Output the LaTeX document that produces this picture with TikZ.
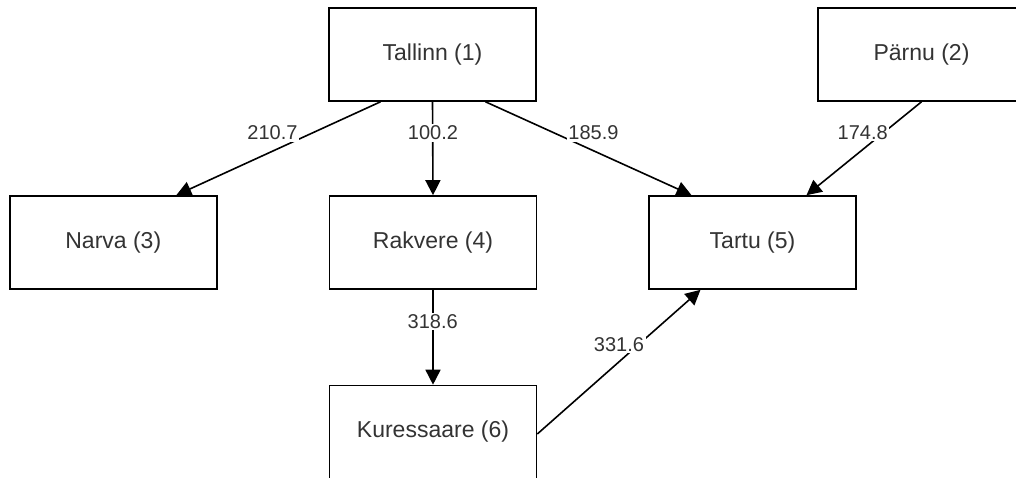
\documentclass[tikz,border=0pt]{standalone}
\usepackage{fontspec}
\setmainfont{Liberation Sans}
\usetikzlibrary{arrows.meta}
\definecolor{txt}{HTML}{333333}
\begin{document}
\begin{tikzpicture}[x=1pt,y=-1pt,
  city/.style={draw=black, line width=1.6pt, minimum width=207pt, minimum height=93pt,
    inner sep=0pt, font=\fontsize{23}{27}\selectfont, text=txt},
  road/.style={draw=black, line width=1.6pt, -{Triangle[length=15pt,width=15pt]}},
  dist/.style={fill=white, inner sep=1.5pt, font=\fontsize{20}{24}\selectfont, text=txt}]
\clip (0,0) rectangle (1016,478);

% cities
\node[city] (tallinn)    at (432.5,54.5)  {Tallinn (1)};
\node[city] (parnu)      at (921.5,54.5)  {Pärnu (2)};
\node[city] (narva)      at (113.3,242.5) {Narva (3)};
\node[city] (rakvere)    at (433,242.5)   {Rakvere (4)};
\node[city] (tartu)      at (752.5,242.5) {Tartu (5)};
\node[city] (kuressaare) at (433,432)     {Kuressaare (6)};

% roads
\draw[road] ([xshift=-52pt]tallinn.south) -- ([xshift=63pt]narva.north);
\draw[road] (tallinn.south) -- (rakvere.north);
\draw[road] ([xshift=53pt]tallinn.south) -- ([xshift=-61pt]tartu.north);
\draw[road] (parnu.south) -- ([xshift=54pt]tartu.north);
\draw[road] (rakvere.south) -- (kuressaare.north);
\draw[road] ([yshift=-2pt]kuressaare.east) -- ([xshift=-52pt]tartu.south);

% distances
\node[dist] (d1) at (272.5,133) {210.7};
\node[dist] (d2) at (433,133)   {100.2};
\node[dist] (d3) at (593.5,133) {185.9};
\node[dist] (d4) at (862.7,132.7) {174.8};
\node[dist] (d5) at (432.7,321.7) {318.6};
\node[dist] (d6) at (619,344.3) {331.6};
\end{tikzpicture}
\end{document}
